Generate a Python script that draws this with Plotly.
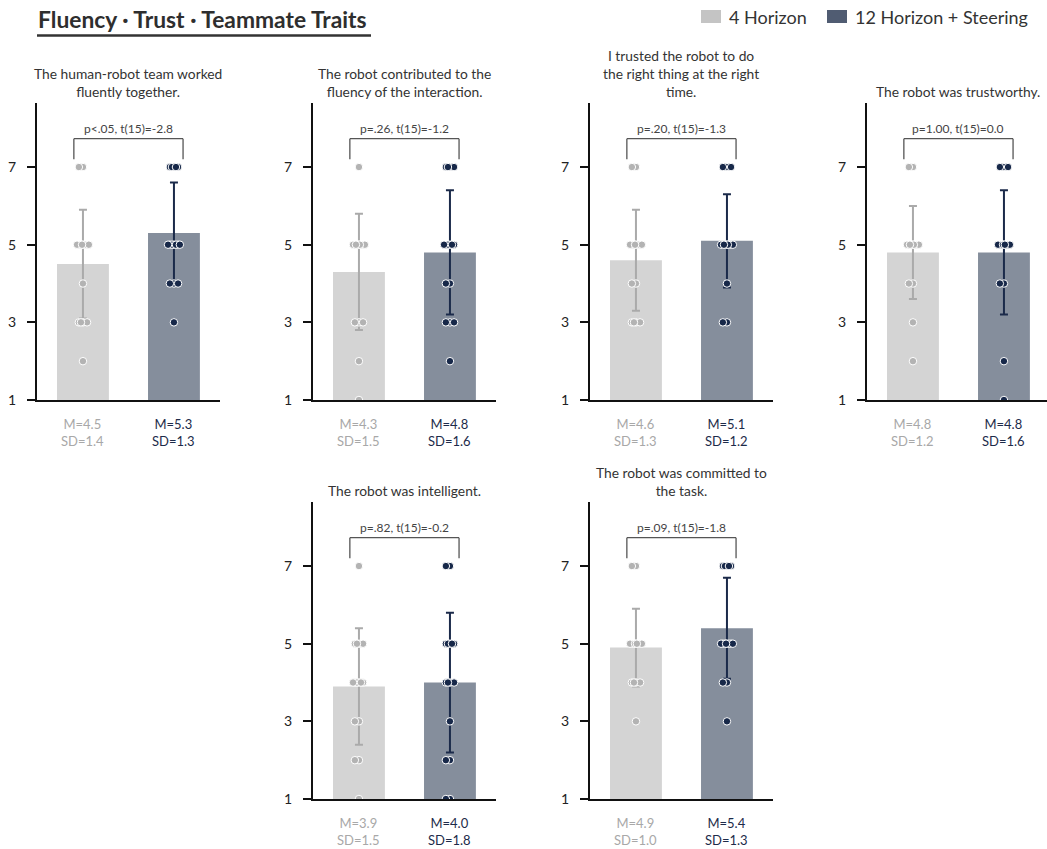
import plotly.graph_objects as go
from collections import Counter

W, H = 1047, 849
FONT = "Lato"

# ---------------- data ----------------
questions = [
    "The human-robot team worked<br>fluently together.",
    "The robot contributed to the<br>fluency of the interaction.",
    "I trusted the robot to do<br>the right thing at the right<br>time.",
    "The robot was trustworthy.",
    "The robot was intelligent.",
    "The robot was committed to<br>the task.",
]
groups = ["4 Horizon", "12 Horizon + Steering"]

means_4h = [4.5, 4.3, 4.6, 4.8, 3.9, 4.9]
sds_4h = [1.4, 1.5, 1.3, 1.2, 1.5, 1.0]
means_12h = [5.3, 4.8, 5.1, 4.8, 4.0, 5.4]
sds_12h = [1.3, 1.6, 1.2, 1.6, 1.8, 1.3]

stat_labels = [
    "p<.05, t(15)=-2.8",
    "p=.26, t(15)=-1.2",
    "p=.20, t(15)=-1.3",
    "p=1.00, t(15)=0.0",
    "p=.82, t(15)=-0.2",
    "p=.09, t(15)=-1.8",
]

ratings_4h = [
    [7, 7, 5, 5, 5, 5, 5, 5, 5, 5, 4, 3, 3, 3, 3, 2],
    [7, 5, 5, 5, 5, 5, 5, 5, 5, 5, 5, 3, 3, 3, 2, 1],
    [7, 7, 5, 5, 5, 5, 5, 5, 5, 5, 4, 4, 3, 3, 3, 3],
    [7, 7, 5, 5, 5, 5, 5, 5, 5, 5, 5, 5, 4, 4, 3, 2],
    [7, 5, 5, 5, 5, 4, 4, 4, 4, 4, 4, 3, 3, 2, 2, 1],
    [7, 7, 5, 5, 5, 5, 5, 5, 5, 5, 5, 4, 4, 4, 4, 3],
]
ratings_12h = [
    [7, 7, 7, 7, 7, 5, 5, 5, 5, 5, 5, 5, 4, 4, 4, 3],
    [7, 7, 7, 7, 5, 5, 5, 5, 5, 5, 4, 4, 3, 3, 3, 2],
    [7, 7, 7, 5, 5, 5, 5, 5, 5, 5, 5, 5, 5, 4, 3, 3],
    [7, 7, 7, 5, 5, 5, 5, 5, 5, 5, 5, 5, 4, 4, 2, 1],
    [7, 7, 5, 5, 5, 5, 5, 4, 4, 4, 4, 3, 2, 2, 1, 1],
    [7, 7, 7, 7, 7, 5, 5, 5, 5, 5, 5, 5, 5, 4, 4, 3],
]

# ---------------- style ----------------
BAR_COLORS = ["#d4d4d4", "#858e9c"]
LEGEND_COLORS = ["#c4c4c4", "#505c72"]
ERR_COLORS = ["#aaaaaa", "#1b2a4a"]
DOT_COLORS = ["#b3b3b3", "#172849"]
TEXT_COLORS = ["#a8a8a8", "#1d2b4a"]

panel_col = [0, 1, 2, 3, 1, 2]
panel_row = [0, 0, 0, 0, 1, 1]
col_left_px = [37, 313, 590, 867]
row_base_px = [400, 799]
AX_H = 297
PX_PER_UNIT = 91
Y_RANGE = [1, 8.65]
KY = 849 / 841.0  # vertical calibration


def py(y):
    """pixel-from-top -> paper y"""
    return 1 - (y * KY) / H


JIT = [0.0, -0.045, 0.045, -0.022, 0.022, -0.065, 0.065, -0.01, 0.01, -0.033, 0.033, -0.055, 0.055, 0.0, -0.04, 0.04]


def jitter(vals):
    seen = Counter()
    out = []
    for v in vals:
        out.append(JIT[seen[v] % len(JIT)])
        seen[v] += 1
    return out


fig = go.Figure()
layout = dict()
shapes = []
annotations = []

all_means = [means_4h, means_12h]
all_sds = [sds_4h, sds_12h]
all_ratings = [ratings_4h, ratings_12h]

for i in range(6):
    n = i + 1
    xa = "x" if n == 1 else f"x{n}"
    ya = "y" if n == 1 else f"y{n}"
    left = col_left_px[panel_col[i]]
    width = min(183, W - left)
    base = row_base_px[panel_row[i]]
    top = base - AX_H
    xdom = [left / W, (left + width) / W]
    ydom = [py(base), py(top)]

    layout["xaxis" if n == 1 else f"xaxis{n}"] = dict(
        domain=xdom, anchor=ya, range=[-0.505, -0.505 + width / PX_PER_UNIT],
        showline=True, linecolor="#111111", linewidth=2, showgrid=False,
        zeroline=False, showticklabels=False, ticks="", fixedrange=True,
    )
    layout["yaxis" if n == 1 else f"yaxis{n}"] = dict(
        domain=ydom, anchor=xa, range=Y_RANGE,
        showline=True, linecolor="#111111", linewidth=2, showgrid=False,
        zeroline=False, tickvals=[1, 3, 5, 7], ticks="outside", ticklen=8,
        tickwidth=2, tickcolor="#111111", ticklabelstandoff=8,
        tickfont=dict(family=FONT, size=14, color="#222222"), fixedrange=True,
    )

    for g in range(2):
        m = all_means[g][i]
        sd = all_sds[g][i]
        fig.add_trace(go.Bar(
            x=[g], y=[m], width=0.57, xaxis=xa, yaxis=ya,
            marker=dict(color=BAR_COLORS[g], line=dict(width=0)),
            error_y=dict(type="data", array=[sd], color=ERR_COLORS[g],
                         thickness=2, width=4),
            showlegend=False, hoverinfo="skip",
        ))
    for g in range(2):
        vals = all_ratings[g][i]
        js = jitter(vals)
        fig.add_trace(go.Scatter(
            x=[g + j for j in js], y=vals, mode="markers", xaxis=xa, yaxis=ya,
            marker=dict(size=7.5, color=DOT_COLORS[g], line=dict(color="white", width=1)),
            showlegend=False, hoverinfo="skip",
        ))
        annotations.append(dict(
            x=g, y=ydom[0], xref=xa, yref="paper", yanchor="top", yshift=-14,
            text=f"M={all_means[g][i]:.1f}<br>SD={all_sds[g][i]:.1f}",
            showarrow=False, align="center",
            font=dict(family=FONT, size=13, color=TEXT_COLORS[g]),
        ))

    # significance bracket
    yb, yt = 7.2, 7.73
    for seg in [(-0.1, yb, -0.1, yt), (-0.1, yt, 1.1, yt), (1.1, yt, 1.1, yb)]:
        shapes.append(dict(type="line", xref=xa, yref=ya, x0=seg[0], y0=seg[1],
                           x1=seg[2], y1=seg[3], line=dict(color="#555555", width=1.3)))
    annotations.append(dict(
        x=0.5, y=8.0, xref=xa, yref=ya, text=stat_labels[i], showarrow=False,
        yanchor="middle", font=dict(family=FONT, size=12, color="#444444"),
    ))
    # panel title
    annotations.append(dict(
        x=0.5, y=ydom[1], xref=xa, yref="paper", yanchor="bottom", yshift=1,
        text=questions[i], showarrow=False, align="center",
        font=dict(family=FONT, size=13.8, color="#333333"),
    ))

# main title + underline
annotations.append(dict(
    x=36 / W, y=py(19), xref="paper", yref="paper", xanchor="left", yanchor="middle",
    text="<b>Fluency · Trust · Teammate Traits</b>", showarrow=False,
    font=dict(family=FONT, size=22.8, color="#2e2e2e"),
))
shapes.append(dict(type="line", xref="paper", yref="paper", x0=37 / W, x1=371 / W,
                   y0=py(35.5), y1=py(35.5), line=dict(color="#333333", width=2.5)))

# legend
leg_sq_px = [701, 827]
for g in range(2):
    x0 = leg_sq_px[g]
    shapes.append(dict(type="rect", xref="paper", yref="paper",
                       x0=x0 / W, x1=(x0 + 20) / W, y0=py(23), y1=py(10),
                       fillcolor=LEGEND_COLORS[g], line=dict(width=0)))
    annotations.append(dict(
        x=(x0 + 26) / W, y=py(16.5), xref="paper", yref="paper",
        xanchor="left", yanchor="middle", text=groups[g], showarrow=False,
        font=dict(family=FONT, size=18, color="#333333"),
    ))

fig.update_layout(
    width=W, height=H, margin=dict(l=0, r=0, t=0, b=0),
    paper_bgcolor="white", plot_bgcolor="white",
    barmode="overlay", showlegend=False,
    shapes=shapes, annotations=annotations,
    font=dict(family=FONT),
    **layout,
)

fig.write_html("out.html")
